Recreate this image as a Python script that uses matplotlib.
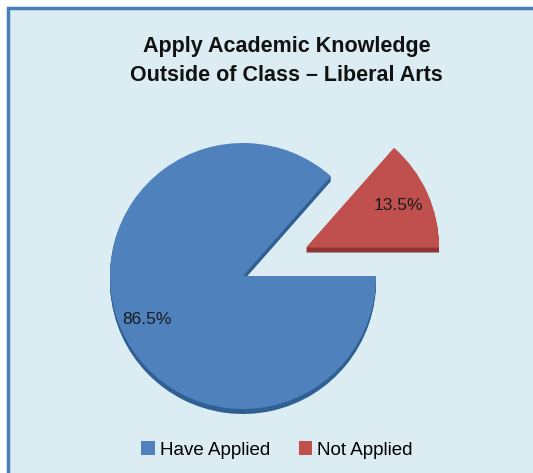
import numpy as np
import matplotlib
matplotlib.use('Agg')
import matplotlib.pyplot as plt
from matplotlib.patches import Rectangle, Patch

plt.rcParams['font.family'] = ['Liberation Sans', 'DejaVu Sans']

labels = ['Have Applied', 'Not Applied']
values = [86.5, 13.5]
colors = ['#4f81bd', '#c0504d']
side_colors = ['#2f5f93', '#8e3533']
explode = [0.0, 0.52]
pct_dist = [0.79, 0.76]

W, H = 533, 473
fig = plt.figure(figsize=(W / 100, H / 100), dpi=100)
fig.patch.set_facecolor('white')
ax = fig.add_axes([0, 0, 1, 1])
ax.set_xlim(0, W)
ax.set_ylim(0, H)
ax.set_aspect('equal')
ax.axis('off')

# chart area background with border on top and left
ax.add_patch(Rectangle((8, -5), W + 10, H - 3, facecolor='#dbedf3',
                       edgecolor='#4a7ebb', linewidth=2.5, zorder=0))

cx, cy, r = 243, 197, 133
start = 360 * values[1] / sum(values)
expl = [e * r for e in explode]

# depth shading: darker copy shifted down
for k in range(5, 0, -1):
    ax.pie(values, colors=side_colors, explode=expl, startangle=start,
           radius=r, center=(cx, cy - k), counterclock=True,
           wedgeprops=dict(linewidth=0), frame=True)

wedges, texts, autotexts = ax.pie(values, colors=colors, explode=expl,
                                  startangle=start, radius=r, center=(cx, cy),
                                  autopct='%1.1f%%', counterclock=True,
                                  wedgeprops=dict(linewidth=0),
                                  textprops=dict(fontsize=12.5, color='#1a1a1a'),
                                  frame=True)

for w, t, e, d in zip(wedges, autotexts, expl, pct_dist):
    ang = np.deg2rad((w.theta1 + w.theta2) / 2)
    ox = cx + e * np.cos(ang)
    oy = cy + e * np.sin(ang)
    t.set_position((ox + d * r * np.cos(ang), oy + d * r * np.sin(ang)))

ax.set_xlim(0, W)
ax.set_ylim(0, H)
ax.axis('off')

ax.text(W / 2 + 20, H - 61, 'Apply Academic Knowledge\nOutside of Class \u2013 Liberal Arts',
        ha='center', va='center', fontsize=15.5, fontweight='bold',
        linespacing=1.5, color='#111111')

handles = [Patch(facecolor=c, edgecolor='none') for c in colors]
ax.legend(handles, labels, loc='center', bbox_to_anchor=(0.52, 23 / H),
          bbox_transform=fig.transFigure, ncol=2, frameon=False,
          fontsize=13.5, handlelength=0.7, handleheight=0.7,
          handletextpad=0.3, columnspacing=1.5)

fig.savefig('out.png', dpi=100, facecolor=fig.get_facecolor())
